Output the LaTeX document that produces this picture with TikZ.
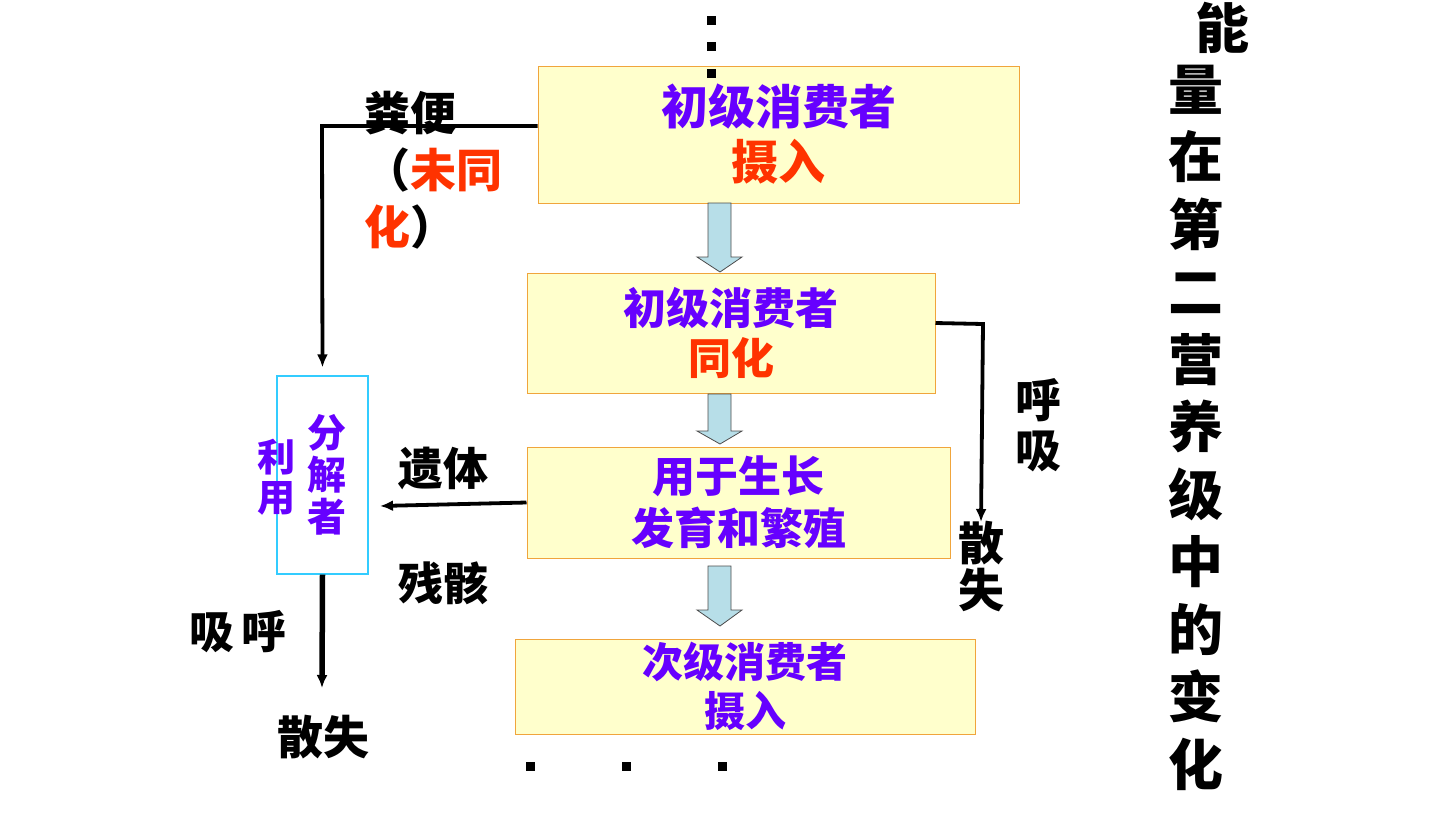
\documentclass[tikz,border=0pt]{standalone}
\usepackage{fontspec}
\newfontfamily\cjk{Noto Sans CJK SC}
\usetikzlibrary{calc,arrows.meta}
\definecolor{purp}{RGB}{102,0,255}
\definecolor{redo}{RGB}{255,51,0}
\definecolor{boxfill}{RGB}{255,255,204}
\definecolor{boxline}{RGB}{240,165,60}
\definecolor{arrfill}{RGB}{183,222,232}
\definecolor{cyanl}{RGB}{51,204,255}
\begin{document}
\begin{tikzpicture}[x=1pt,y=-1pt,
  box/.style={draw=boxline, fill=boxfill, line width=1pt, inner sep=0pt, align=center},
  lbl/.style={inner sep=0pt, align=center, text=black},
  conn/.style={line width=3.8pt, draw=black},
  tip/.style={-{Latex[length=13pt,width=11pt]}},
  blockarr/.style={draw=black!70, fill=arrfill, line width=0.8pt, line join=miter},
  dot/.style={fill=black, inner sep=0pt, minimum size=9pt}
]
\useasboundingbox (0,0) rectangle (1440,822);

% main boxes
\node[box, minimum width=481pt, minimum height=137pt,
  font=\cjk\bfseries\fontsize{47}{55}\selectfont] (b1) at (778.5,134.5)
  {\textcolor{purp}{初级消费者}\\\textcolor{redo}{摄入}};
\node[box, minimum width=408pt, minimum height=120pt,
  font=\cjk\bfseries\fontsize{43}{50}\selectfont] (b2) at (731,333)
  {\textcolor{purp}{初级消费者}\\\textcolor{redo}{同化}};
\node[box, minimum width=423pt, minimum height=111pt,
  font=\cjk\bfseries\fontsize{43}{52}\selectfont, text=purp] (b3) at (738.5,502.5)
  {用于生长\\发育和繁殖};
\node[box, minimum width=460pt, minimum height=95pt,
  font=\cjk\bfseries\fontsize{41}{49}\selectfont, text=purp] (b4) at (745,686.5)
  {次级消费者\\摄入};

% block arrows
\draw[blockarr] (708,203) -- (731,203) -- (731,257) -- (742,257) -- (720,272) -- (697,257) -- (708,257) -- cycle;
\draw[blockarr] (708,394) -- (731,394) -- (731,431) -- (742,431) -- (720,444) -- (697,431) -- (708,431) -- cycle;
\draw[blockarr] (708,566) -- (731,566) -- (731,610) -- (742,610) -- (720,626) -- (697,610) -- (708,610) -- cycle;

% dots
\node[dot] (d1) at (711,20) {};
\node[dot] (d2) at (711,46) {};
\node[dot] (d3) at (711,73) {};
\node[dot] (e1) at (530,766) {};
\node[dot] (e2) at (626,766) {};
\node[dot] (e3) at (722,766) {};

% decomposer
\node[draw=cyanl, line width=1.2pt, minimum width=91pt, minimum height=198pt, inner sep=0pt] (dec) at (322.5,475) {};
\node[lbl, text=purp, font=\cjk\bfseries\fontsize{39}{42}\selectfont] (fj) at (327,475) {分\\解\\者};
\node[lbl, text=purp, font=\cjk\bfseries\fontsize{38}{40}\selectfont] (ly) at (276,477) {利\\用};

% connectors
\coordinate (c1) at (322,126);
\draw[conn, tip, shorten >=8pt] ([yshift=8.5pt]b1.west) -- (c1) -- (dec.north);
\draw[conn, tip] (b3.west) -- (380,506);
\coordinate (dl) at (322,688);
\draw[line width=5.5pt, tip] (dec.south) -- (dl);
\coordinate (r1) at (983,324);
\coordinate (r2) at (981,522);
\draw[conn, tip] ([yshift=10pt]b2.east) -- (r1) -- (r2);

% labels
\node[lbl, anchor=west, align=left, font=\cjk\bfseries\fontsize{46}{57}\selectfont] (fb) at (364,170)
  {粪便\\（\textcolor{redo}{未同}\\\textcolor{redo}{化}）};
\node[lbl, font=\cjk\bfseries\fontsize{45}{45}\selectfont] (yt) at (443,468) {遗体};
\node[lbl, font=\cjk\bfseries\fontsize{45}{45}\selectfont] (cg) at (443,583) {残骸};
\node[lbl, font=\cjk\bfseries\fontsize{45}{45}\selectfont] (xh) at (238,632) {吸\,呼};
\node[lbl, font=\cjk\bfseries\fontsize{46}{46}\selectfont] (ss1) at (323,737) {散失};
\node[lbl, font=\cjk\bfseries\fontsize{46}{50}\selectfont] (hx) at (1038,425) {呼\\吸};
\node[lbl, font=\cjk\bfseries\fontsize{46}{47}\selectfont] (ss2) at (981,566) {散\\失};

% title
\node[lbl, font=\cjk\bfseries\fontsize{54}{54}\selectfont] (t0) at (1222,28) {能};
\node[lbl, font=\cjk\bfseries\fontsize{55}{67.5}\selectfont] (t1) at (1196,427.5)
  {量\\在\\第\\二\\营\\养\\级\\中\\的\\变\\化};
\end{tikzpicture}
\end{document}
